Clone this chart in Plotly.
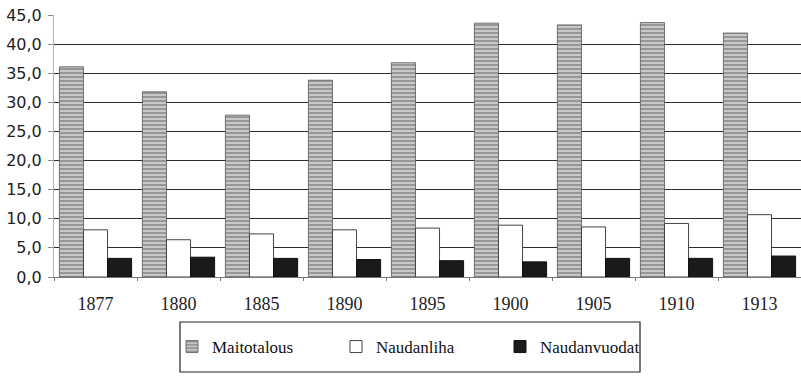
import plotly.graph_objects as go

years = ["1877", "1880", "1885", "1890", "1895", "1900", "1905", "1910", "1913"]
maitotalous = [36.1, 31.8, 27.8, 33.8, 36.8, 43.6, 43.3, 43.7, 41.9]
naudanliha = [8.1, 6.4, 7.4, 8.1, 8.4, 8.9, 8.6, 9.2, 10.7]
naudanvuodat = [3.2, 3.4, 3.2, 3.0, 2.8, 2.6, 3.2, 3.2, 3.6]
y_ticks = [0, 5, 10, 15, 20, 25, 30, 35, 40, 45]
y_tick_text = [f"{v:.1f}".replace(".", ",") for v in y_ticks]

SERIF = "Liberation Serif"

fig = go.Figure()
fig.add_bar(
    x=years, y=maitotalous, name="Maitotalous",
    marker=dict(
        color="#b5b5b5",
        line=dict(color="#555555", width=0.8),
        pattern=dict(shape="-", fgcolor="#3a3a3a", bgcolor="#c8c8c8",
                     size=4, solidity=0.35),
    ),
)
fig.add_bar(
    x=years, y=naudanliha, name="Naudanliha",
    marker=dict(color="#ffffff", line=dict(color="#444444", width=1)),
)
fig.add_bar(
    x=years, y=naudanvuodat, name="Naudanvuodat",
    marker=dict(color="#1a1a1a", line=dict(color="#111111", width=1)),
)

# legend frame
fig.add_shape(
    type="rect", xref="paper", yref="paper",
    x0=(180 - 54) / 747, x1=(640 - 54) / 747,
    y0=(277 - 372) / 262, y1=(277 - 322) / 262,
    line=dict(color="#222222", width=1.2), fillcolor="rgba(0,0,0,0)",
)

fig.update_layout(
    width=801, height=378,
    margin=dict(l=54, r=0, t=15, b=101, autoexpand=False),
    font=dict(family=SERIF, color="#222222"),
    paper_bgcolor="white", plot_bgcolor="white",
    barmode="group", bargap=0.13, bargroupgap=0.0,
    showlegend=True,
    legend=dict(
        orientation="h", x=(172 - 54) / 747, xanchor="left",
        y=(277 - 347) / 262, yanchor="middle",
        entrywidth=119, entrywidthmode="pixels", itemwidth=30,
        font=dict(family=SERIF, size=17, color="#111111"),
        bgcolor="rgba(0,0,0,0)", borderwidth=0,
    ),
    xaxis=dict(
        type="category",
        showline=True, linecolor="#777777", linewidth=1,
        ticks="outside", tickson="boundaries", ticklen=3, tickcolor="#777777",
        tickfont=dict(family=SERIF, size=18, color="#222222"),
        ticklabelstandoff=10,
        showgrid=False,
    ),
    yaxis=dict(
        range=[0, 45], tickvals=y_ticks, ticktext=y_tick_text,
        showline=True, linecolor="#c9a9a9", linewidth=1,
        ticks="outside", ticklen=5, tickcolor="#888888",
        ticklabelstandoff=3,
        showgrid=True, gridcolor="#2e2e2e", gridwidth=1,
        zeroline=False,
        tickfont=dict(family="DejaVu Sans", size=16, color="#1e1e1e"),
    ),
)

fig.write_html("out.html")
